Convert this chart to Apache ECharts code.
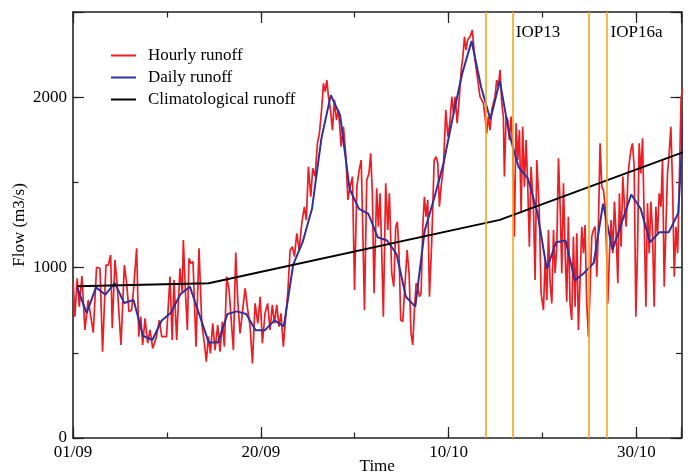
<!DOCTYPE html>
<html>
<head>
<meta charset="utf-8">
<script src="https://cdn.jsdelivr.net/npm/echarts@6.0.0/dist/echarts.min.js"></script>
<style>
  html, body { margin: 0; padding: 0; background: #fff; }
  #chart { width: 689px; height: 476px; }
</style>
</head>
<body>
<div id="chart"></div>
<script>
// time axis is in days since 01/09 00:00
const tickDays = [0, 20, 40, 60];
const tickText = ['01/09', '20/09', '10/10', '30/10'];

// hourly runoff, read as turning points off the figure
const hourlyDay = [
  0.02, 0.2, 0.45, 0.67, 0.95, 1.27, 1.62, 2.16, 2.51, 2.87, 3.15, 3.51, 3.77, 4.01, 4.18, 4.47, 4.72, 5.11, 5.47, 5.71,
  5.97, 6.25, 6.5, 6.78, 7.0, 7.21, 7.42, 7.67, 7.95, 8.2, 8.49, 8.84, 9.2, 9.45,
  9.96, 10.33, 10.56, 10.76, 11.04, 11.39, 11.64, 11.75, 12.0, 12.18, 12.35, 12.56, 12.78, 13.1, 13.42, 13.71, 13.99,
  14.2, 14.42, 14.63, 14.88, 15.13, 15.41, 15.66, 15.91, 16.12, 16.37, 16.62, 17.08, 17.33, 17.54, 17.79, 18.33, 18.61,
  18.86, 19.11, 19.39, 19.68, 19.93, 20.17,
  20.45, 20.73, 20.98, 21.23, 21.45, 21.7, 21.94, 22.15, 22.4, 22.65, 22.87, 23.12, 23.36, 23.58, 23.83, 24.08, 24.36,
  24.64, 24.85, 25.07, 25.32, 25.53, 25.78, 26.03, 26.24, 26.5, 26.67, 26.85, 27.03, 27.2, 27.42, 27.63, 27.84, 28.06,
  28.27, 28.56, 28.8, 29.06, 29.27, 29.52, 29.76, 29.98, 30.23, 30.48, 30.69, 30.83, 31.04,
  31.28, 31.52, 31.7, 31.88, 32.06, 32.34, 32.52, 32.7, 32.88, 33.05, 33.3, 33.52, 33.69, 33.94, 34.16, 34.37, 34.54,
  34.72, 34.9, 35.12, 35.36, 35.58, 35.79, 36.0, 36.18, 36.36, 36.54, 36.72, 36.89, 37.07, 37.25, 37.42, 37.6, 37.78,
  37.96, 38.21, 38.46, 38.67, 38.85, 39.02, 39.2, 39.45, 39.7, 39.92, 40.16, 40.34, 40.52, 40.7, 40.91, 41.12, 41.34,
  41.52, 41.69,
  41.85, 42.03, 42.28, 42.52, 42.81, 43.1, 43.34, 43.52, 43.7, 43.88, 44.05, 44.23, 44.41, 44.59, 44.76, 44.94, 45.12,
  45.3, 45.48, 45.66, 45.83, 45.94, 46.12, 46.3, 46.47, 46.65, 46.83, 47.0, 47.18, 47.36, 47.54, 47.72, 47.89, 48.07,
  48.25, 48.43, 48.6, 48.78, 49.03, 49.21, 49.39, 49.64, 49.85, 50.1, 50.28, 50.46, 50.63, 50.81, 50.99, 51.17, 51.34,
  51.52, 51.7, 51.88, 52.05, 52.23, 52.41,
  52.58, 52.75, 52.93, 53.11, 53.29, 53.47, 53.65, 53.82, 54.0, 54.18, 54.36, 54.53, 54.71, 54.89, 55.07, 55.24, 55.42,
  55.6, 55.78, 55.95, 56.13, 56.31, 56.49, 56.67, 56.85, 56.95, 57.13, 57.31, 57.49, 57.66, 57.84, 58.02, 58.19, 58.37,
  58.55, 58.73, 58.91, 59.09, 59.23, 59.41, 59.58, 59.76, 59.94, 60.11, 60.29, 60.47, 60.65, 60.83, 61.01, 61.18, 61.36,
  61.54, 61.71, 61.89, 62.07, 62.25, 62.43, 62.61, 62.78, 62.96, 63.14, 63.31, 63.49, 63.67, 63.85, 64.03, 64.21, 64.39,
  64.57, 64.75, 64.9
];
const hourlyFlow = [
  917, 712, 937, 770, 951, 634, 810, 618, 1002, 996, 506, 1015, 1015, 1074, 644, 1045, 888, 546, 1015, 908,
  741, 751, 908, 1113, 595, 712, 546, 702, 556, 634, 526, 585, 692, 595,
  595, 947, 575, 927, 575, 996, 849, 1162, 829, 634, 1054, 1025, 1035, 536, 1113, 673, 556,
  448, 595, 497, 673, 516, 663, 506, 683, 536, 947, 869, 516, 1088, 810, 614, 878, 751,
  653, 438, 790, 673, 829, 556,
  732, 790, 634, 781, 673, 781, 653, 732, 536, 712, 849, 1103, 1123, 1064, 1201, 1103, 1260,
  1357, 1279, 1592, 1416, 1583, 1534, 1729, 1788, 1944, 2081, 2033, 2101, 2003, 1925, 1807, 1984, 1866,
  1925, 1710, 1827, 1651, 1397, 1475, 1534, 869, 1475, 1573, 1631, 1299, 751,
  1514, 1553, 1671, 1436, 849, 1465, 1240, 1436, 1084, 712, 1495, 1221, 1436, 967, 888, 1240, 1269,
  1084, 692, 683, 908, 1103, 967, 614, 546, 751, 908, 888, 829, 849, 1240, 1416, 1299, 1397,
  829, 1162, 1631, 1651, 1612, 1357, 1475, 1592, 1925, 1768, 1866, 2003, 1905, 2003, 1847, 1984, 2160,
  2238, 2355,
  2277, 2336, 2355, 2394, 2218, 2101, 2003, 1984, 1964, 1886, 1788, 1886, 1807, 1925, 1964, 2003, 2101,
  2062, 2160, 1964, 1886, 1534, 1886, 1866, 1749, 1886, 1710, 1181, 1847, 1631, 1807, 1319, 1827, 1475,
  1749, 1475, 1123, 1592, 1357, 927, 1631, 1357, 849, 751, 1045, 810, 1221, 908, 790, 1221, 967,
  1123, 1641, 1357, 967, 1495, 1084,
  800, 1299, 790, 692, 1181, 771, 1201, 634, 927, 1240, 1084, 1250, 790, 595, 888, 1181, 1221,
  1240, 947, 1240, 1729, 1475, 1455, 1357, 1045, 790, 1084, 1279, 1084, 1387, 1201, 908, 1436, 1123,
  1534, 1357, 1240, 1534, 1612, 1690, 1729, 1592, 712, 1084, 1729, 1553, 1759, 1279, 771, 1377, 1084,
  1387, 1221, 771, 1357, 1201, 1436, 1357, 1631, 888, 1240, 1553, 1671, 1827, 1475, 947, 1240, 1084,
  1514, 1984, 2050
];

// daily mean runoff, one value per day (plotted at ~11h of each day)
const dailyFlow = [
  884, 733, 884, 841, 910, 792, 810, 600, 575, 690,
  737, 845, 888, 725, 561, 561, 728, 743, 728, 633,
  633, 690, 655, 1018, 1149, 1345, 1757, 2012, 1894, 1463,
  1345, 1316, 1178, 1159, 1080, 829, 771, 1218, 1404, 1610,
  1884, 2139, 2330, 2061, 1869, 2096, 1786, 1590, 1522, 1325,
  992, 1149, 1159, 924, 970, 1027, 1375, 1104, 1267, 1429,
  1345, 1149, 1208, 1208, 1319, 2300
];
const dailyOffset = 0.45;

// climatological runoff (mid-month values)
const climDay = [0.45, 14.45, 45.45, 75.45];
const climFlow = [890, 908, 1280, 1890];

// IOP markers
const iopLines = [43.95, 46.86, 54.95, 56.84];
const iopNames = ['IOP13', 'IOP16a'];
const iopLabelDay = [47.15, 57.25];

const FONT = 'Liberation Serif';
const chart = echarts.init(document.getElementById('chart'));

const hourly = hourlyDay.map((d, i) => [d, hourlyFlow[i]]);
const daily = dailyFlow.map((v, i) => [i + dailyOffset, v]);
const clim = climDay.map((d, i) => [d, climFlow[i]]);

const xMax = 64.8;
const axisCol = '#222';
const txt = { color: '#000', fontFamily: FONT, fontSize: 17 };

function xAx(pos, step, len, main) {
  return {
    type: 'value', position: pos, min: 0, max: xMax, interval: step,
    axisLine: { show: main, onZero: false, lineStyle: { color: axisCol, width: 1.6 } },
    axisTick: { show: true, inside: true, length: len, lineStyle: { color: axisCol, width: 1.2 } },
    axisLabel: { show: false },
    splitLine: { show: false },
  };
}
function yAx(pos, step, len, main) {
  return {
    type: 'value', position: pos, min: 0, max: 2500, interval: step,
    axisLine: { show: main, onZero: false, lineStyle: { color: axisCol, width: 1.6 } },
    axisTick: { show: true, inside: true, length: len, lineStyle: { color: axisCol, width: 1.2 } },
    axisLabel: { show: false },
    splitLine: { show: false },
  };
}

const xBottom = xAx('bottom', 20, 11, true);
xBottom.axisLabel = {
  show: true, margin: 6, ...txt,
  formatter: v => {
    const k = tickDays.indexOf(Math.round(v * 100) / 100);
    return k >= 0 ? tickText[k] : '';
  },
};
xBottom.name = 'Time';
xBottom.nameLocation = 'middle';
xBottom.nameGap = 20;
xBottom.nameMoveOverlap = false;
xBottom.nameTextStyle = txt;

const yLeft = yAx('left', 1000, 11, true);
yLeft.axisLabel = {
  show: true, margin: 6, ...txt,
  formatter: v => (v % 1000 === 0 ? String(v) : ''),
};
yLeft.name = 'Flow (m3/s)';
yLeft.nameLocation = 'middle';
yLeft.nameGap = 45;
yLeft.nameMoveOverlap = false;
yLeft.nameTextStyle = txt;

const option = {
  animation: false,
  backgroundColor: '#fff',
  grid: { left: 73, right: 7.5, top: 12, bottom: 38, containLabel: false, outerBoundsMode: 'none' },
  legend: {
    orient: 'vertical', left: 111, top: 47, padding: 0,
    icon: 'rect', itemWidth: 25, itemHeight: 2, itemGap: 5,
    textStyle: { ...txt, lineHeight: 17, padding: [0, 0, 0, 7] },
    data: ['Hourly runoff', 'Daily runoff', 'Climatological runoff'],
  },
  xAxis: [xBottom, xAx('bottom', 10, 5.5, false), xAx('top', 20, 11, true), xAx('top', 10, 5.5, false)],
  yAxis: [yLeft, yAx('left', 500, 5.5, false), yAx('right', 1000, 11, true), yAx('right', 500, 5.5, false)],
  series: [
    {
      name: 'IOP', type: 'line', data: [], silent: true, z: 1,
      markLine: {
        silent: true, symbol: 'none', animation: false,
        lineStyle: { color: '#f8a51c', width: 1.6, type: 'solid' },
        label: { show: false },
        data: iopLines.map(d => ({ xAxis: d })),
      },
      markPoint: {
        silent: true, symbol: 'circle', symbolSize: 0,
        label: { show: true, position: 'right', distance: 0, formatter: '{b}', ...txt },
        data: iopNames.map((n, i) => ({ name: n, coord: [iopLabelDay[i], 2381] })),
      },
    },
    {
      name: 'Hourly runoff', type: 'line', data: hourly, showSymbol: false, z: 2,
      color: '#ee1d23', lineStyle: { width: 1.7 },
    },
    {
      name: 'Daily runoff', type: 'line', data: daily, showSymbol: false, z: 3,
      color: '#30309a', lineStyle: { width: 2 },
    },
    {
      name: 'Climatological runoff', type: 'line', data: clim, showSymbol: false, z: 4,
      color: '#000', lineStyle: { width: 2 },
    },
  ],
};
chart.setOption(option);
</script>
</body>
</html>
